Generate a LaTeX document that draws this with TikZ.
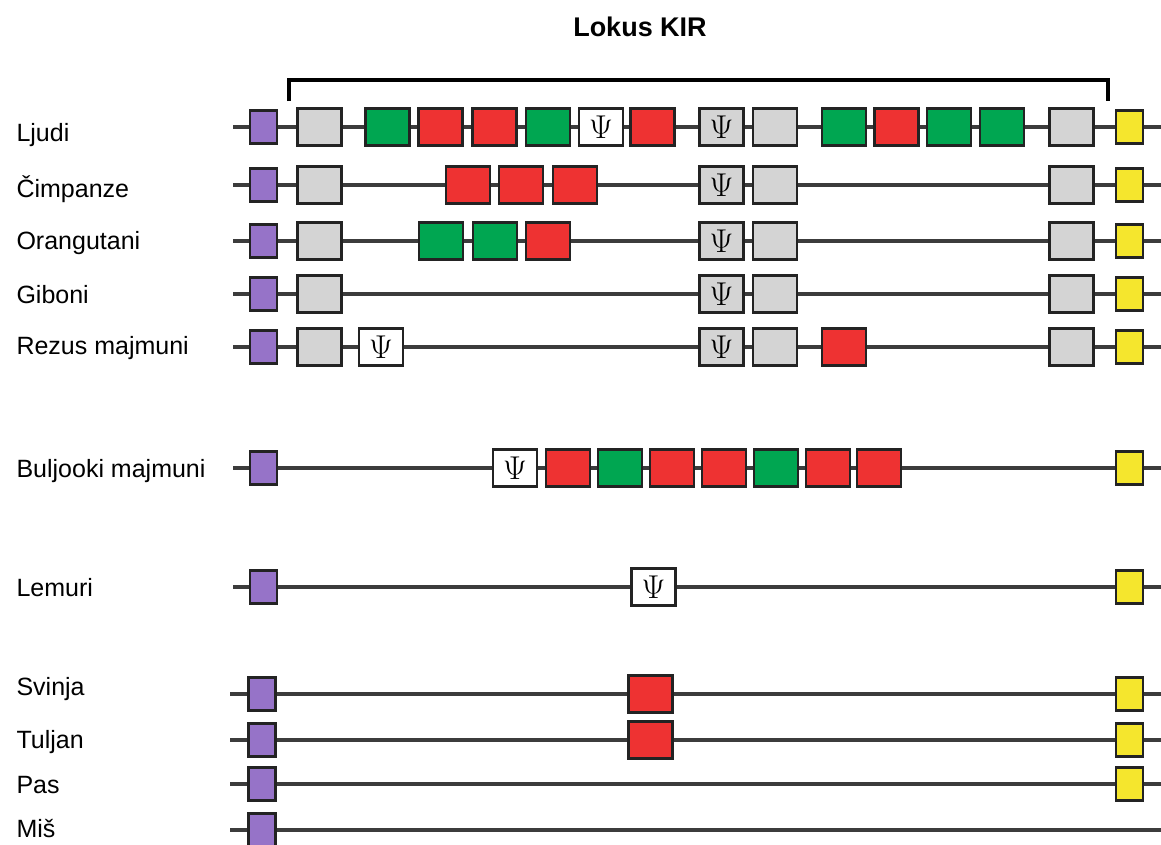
\RequirePackage{fix-cm}
\documentclass[tikz,border=0pt]{standalone}
\usepackage{fontspec}
\setmainfont{Liberation Sans}
\definecolor{boxline}{RGB}{35,35,35}
\definecolor{axisline}{RGB}{60,60,60}
\definecolor{kirgray}{RGB}{212,212,212}
\definecolor{kirgreen}{RGB}{0,166,81}
\definecolor{kirred}{RGB}{238,50,50}
\definecolor{kirpurple}{RGB}{150,115,200}
\definecolor{kiryellow}{RGB}{245,230,45}
\tikzset{
  gene/.style={draw=boxline, line width=2.2pt, minimum width=44pt, minimum height=37pt, inner sep=0pt},
  gr/.style={gene, fill=kirgray},
  gn/.style={gene, fill=kirgreen},
  rd/.style={gene, fill=kirred},
  ps/.style={gene, fill=white, font=\fontsize{33}{33}\selectfont},
  psg/.style={gene, fill=kirgray, font=\fontsize{33}{33}\selectfont},
  lilc/.style={gene, fill=kirpurple, minimum width=27pt, minimum height=33pt},
  lilr/.style={gene, fill=kiryellow, minimum width=27pt, minimum height=33pt},
  backbone/.style={draw=axisline, line width=3.2pt},
  species/.style={anchor=base west, font=\fontsize{25}{25}\selectfont}
}
\begin{document}
\begin{tikzpicture}[x=1pt,y=-1pt]
\useasboundingbox (0,0) rectangle (1161,844);

\node[anchor=base, font=\bfseries\fontsize{27}{27}\selectfont] (title) at (640,36) {Lokus KIR};
\draw[line width=3.6pt] (289,101) -- (289,80) -- (1108,80) -- (1108,101);

% species names
\node[species] (nLj) at (13,141) {Ljudi};
\node[species] (nCi) at (13,197) {Čimpanze};
\node[species] (nOr) at (13,249) {Orangutani};
\node[species] (nGi) at (13,303) {Giboni};
\node[species] (nRe) at (13,354) {Rezus majmuni};
\node[species] (nBu) at (13,477) {Buljooki majmuni};
\node[species] (nLe) at (13,596) {Lemuri};
\node[species] (nSv) at (13,695) {Svinja};
\node[species] (nTu) at (13,748) {Tuljan};
\node[species] (nPa) at (13,793) {Pas};
\node[species] (nMi) at (13,837) {Miš};

% backbones
\coordinate (ljS) at (233,127);  \coordinate (ljE) at (1161,127);
\coordinate (ciS) at (233,185);  \coordinate (ciE) at (1161,185);
\coordinate (orS) at (233,241);  \coordinate (orE) at (1161,241);
\coordinate (giS) at (233,294);  \coordinate (giE) at (1161,294);
\coordinate (reS) at (233,347);  \coordinate (reE) at (1161,347);
\coordinate (buS) at (233,468);  \coordinate (buE) at (1161,468);
\coordinate (leS) at (233,587);  \coordinate (leE) at (1161,587);
\coordinate (svS) at (230,694);  \coordinate (svE) at (1161,694);
\coordinate (tuS) at (230,740);  \coordinate (tuE) at (1161,740);
\coordinate (paS) at (230,784);  \coordinate (paE) at (1161,784);
\coordinate (miS) at (230,830);  \coordinate (miE) at (1161,830);
\draw[backbone] (ljS) -- (ljE);
\draw[backbone] (ciS) -- (ciE);
\draw[backbone] (orS) -- (orE);
\draw[backbone] (giS) -- (giE);
\draw[backbone] (reS) -- (reE);
\draw[backbone] (buS) -- (buE);
\draw[backbone] (leS) -- (leE);
\draw[backbone] (svS) -- (svE);
\draw[backbone] (tuS) -- (tuE);
\draw[backbone] (paS) -- (paE);
\draw[backbone] (miS) -- (miE);

% Ljudi
\node[lilc] (lj1) at (263.5,127) {};
\node[gr] (lj2) at (319.5,127) {};
\node[gn] (lj3) at (387.5,127) {};
\node[rd] (lj4) at (440.5,127) {};
\node[rd] (lj5) at (494.5,127) {};
\node[gn] (lj6) at (548,127) {};
\node[ps] (lj7) at (601,127) {$\Psi$};
\node[rd] (lj8) at (652.5,127) {};
\node[psg] (lj9) at (721.5,127) {$\Psi$};
\node[gr] (lj10) at (775,127) {};
\node[gn] (lj11) at (844,127) {};
\node[rd] (lj12) at (896.5,127) {};
\node[gn] (lj13) at (949,127) {};
\node[gn] (lj14) at (1002,127) {};
\node[gr] (lj15) at (1071.5,127) {};
\node[lilr] (lj16) at (1129.5,127) {};

% Cimpanze
\node[lilc] (ci1) at (263.5,185) {};
\node[gr] (ci2) at (319.5,185) {};
\node[rd] (ci3) at (468,185) {};
\node[rd] (ci4) at (521,185) {};
\node[rd] (ci5) at (575,185) {};
\node[psg] (ci6) at (721.5,185) {$\Psi$};
\node[gr] (ci7) at (775,185) {};
\node[gr] (ci8) at (1071.5,185) {};
\node[lilr] (ci9) at (1129.5,185) {};

% Orangutani
\node[lilc] (or1) at (263.5,241) {};
\node[gr] (or2) at (319.5,241) {};
\node[gn] (or3) at (441,241) {};
\node[gn] (or4) at (495,241) {};
\node[rd] (or5) at (548,241) {};
\node[psg] (or6) at (721.5,241) {$\Psi$};
\node[gr] (or7) at (775,241) {};
\node[gr] (or8) at (1071.5,241) {};
\node[lilr] (or9) at (1129.5,241) {};

% Giboni
\node[lilc] (gi1) at (263.5,294) {};
\node[gr] (gi2) at (319.5,294) {};
\node[psg] (gi3) at (721.5,294) {$\Psi$};
\node[gr] (gi4) at (775,294) {};
\node[gr] (gi5) at (1071.5,294) {};
\node[lilr] (gi6) at (1129.5,294) {};

% Rezus majmuni
\node[lilc] (re1) at (263.5,347) {};
\node[gr] (re2) at (319.5,347) {};
\node[ps] (re3) at (381,347) {$\Psi$};
\node[psg] (re4) at (721.5,347) {$\Psi$};
\node[gr] (re5) at (775,347) {};
\node[rd] (re6) at (844,347) {};
\node[gr] (re7) at (1071.5,347) {};
\node[lilr] (re8) at (1129.5,347) {};

% Buljooki majmuni
\node[lilc] (bu1) at (263.5,468) {};
\node[ps] (bu2) at (515,468) {$\Psi$};
\node[rd] (bu3) at (568,468) {};
\node[gn] (bu4) at (620,468) {};
\node[rd] (bu5) at (672,468) {};
\node[rd] (bu6) at (724,468) {};
\node[gn] (bu7) at (776,468) {};
\node[rd] (bu8) at (828,468) {};
\node[rd] (bu9) at (879,468) {};
\node[lilr] (bu10) at (1129.5,468) {};

% Lemuri
\node[lilc] (le1) at (263.5,587) {};
\node[ps] (le2) at (653.5,587) {$\Psi$};
\node[lilr] (le3) at (1129.5,587) {};

% Svinja, Tuljan, Pas, Mis
\node[lilc] (sv1) at (262,694) {};
\node[rd] (sv2) at (650.5,694) {};
\node[lilr] (sv3) at (1129.5,694) {};
\node[lilc] (tu1) at (262,740) {};
\node[rd] (tu2) at (650.5,740) {};
\node[lilr] (tu3) at (1129.5,740) {};
\node[lilc] (pa1) at (262,784) {};
\node[lilr] (pa2) at (1129.5,784) {};
\node[lilc] (mi1) at (262,830) {};
\end{tikzpicture}
\end{document}
